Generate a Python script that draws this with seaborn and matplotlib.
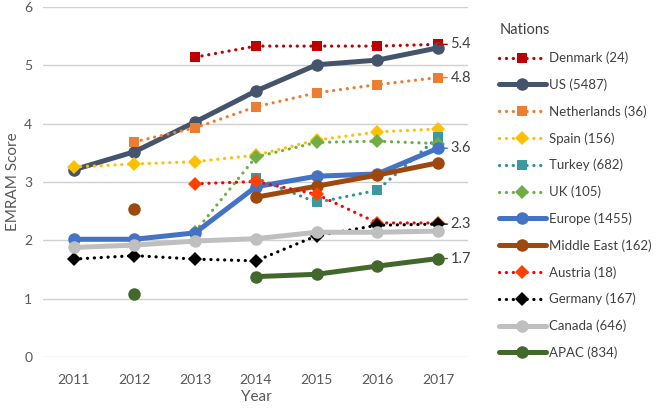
import numpy as np
import pandas as pd
import seaborn as sns
import matplotlib.pyplot as plt
from matplotlib.lines import Line2D

nan = np.nan
years = [2011, 2012, 2013, 2014, 2015, 2016, 2017]

denmark = [nan, nan, 5.14, 5.33, 5.33, 5.33, 5.36]
us = [3.21, 3.52, 4.03, 4.56, 5.01, 5.09, 5.30]
netherlands = [nan, 3.69, 3.93, 4.29, 4.53, 4.67, 4.79]
spain = [3.26, 3.31, 3.35, 3.46, 3.72, 3.86, 3.91]
turkey = [nan, nan, nan, 3.07, 2.65, 2.86, 3.77]
uk = [nan, nan, 2.15, 3.43, 3.68, 3.70, 3.66]
europe = [2.02, 2.02, 2.13, 2.92, 3.10, 3.14, 3.58]
middle_east = [nan, 2.54, nan, 2.74, 2.93, 3.12, 3.33]
austria = [nan, nan, 2.97, 3.01, 2.79, 2.30, 2.30]
germany = [1.68, 1.74, 1.68, 1.65, 2.08, 2.26, 2.28]
canada = [1.88, 1.92, 1.99, 2.03, 2.14, 2.14, 2.16]
apac = [nan, 1.09, nan, 1.38, 1.42, 1.56, 1.69]

nations = ["Denmark (24)", "US (5487)", "Netherlands (36)", "Spain (156)",
           "Turkey (682)", "UK (105)", "Europe (1455)", "Middle East (162)",
           "Austria (18)", "Germany (167)", "Canada (646)", "APAC (834)"]
series = [denmark, us, netherlands, spain, turkey, uk, europe, middle_east,
          austria, germany, canada, apac]
# series that get a value label at 2017
labelled = ["Denmark (24)", "Netherlands (36)", "Europe (1455)", "Germany (167)", "APAC (834)"]

# (line color, marker color, dotted, marker)
styles = {
    "Denmark (24)": ("#C00000", "#C00000", True, "s"),
    "US (5487)": ("#44546A", "#44546A", False, "o"),
    "Netherlands (36)": ("#ED7D31", "#ED7D31", True, "s"),
    "Spain (156)": ("#FFC000", "#FFC000", True, "D"),
    "Turkey (682)": ("#2E9497", "#3A9A9E", True, "s"),
    "UK (105)": ("#70AD47", "#70AD47", True, "D"),
    "Europe (1455)": ("#4472C4", "#4472C4", False, "o"),
    "Middle East (162)": ("#9E480E", "#9E480E", False, "o"),
    "Austria (18)": ("#FF0000", "#FF4000", True, "D"),
    "Germany (167)": ("#000000", "#000000", True, "D"),
    "Canada (646)": ("#BFBFBF", "#BFBFBF", False, "o"),
    "APAC (834)": ("#43682B", "#43682B", False, "o"),
}
dot_style = (0, (0.05, 2.1))

sns.set_style("white")
plt.rcParams['font.family'] = ['Lato', 'DejaVu Sans']

fig = plt.figure(figsize=(6.57, 4.11), dpi=100)
ax = fig.add_axes([0.066, 0.131, 0.647, 0.852])

handles = []
for name, vals in zip(nations, series):
    lc, mc, dotted, mk = styles[name]
    df = pd.DataFrame({"Year": years, "Score": vals})
    df["seg"] = df["Score"].isna().cumsum()
    df = df.dropna()
    if dotted:
        kw = dict(linestyle=dot_style, linewidth=2.3, dash_capstyle="round")
        ms = 7 if mk == "D" else 6.5
    else:
        kw = dict(linestyle="-", linewidth=3.6)
        ms = 9
    sns.lineplot(data=df, x="Year", y="Score", units="seg", estimator=None,
                 color=lc, marker=mk, markersize=ms, markerfacecolor=mc,
                 markeredgecolor=mc, markeredgewidth=0, ax=ax, legend=False, **kw)
    handles.append(Line2D([0], [0], color=lc, marker=mk, markersize=ms,
                          markerfacecolor=mc, markeredgecolor=mc, markeredgewidth=0, **kw))
    if name in labelled:
        v = vals[-1]
        ax.annotate(f"{v:.1f}", xy=(years[-1], v), xytext=(9, 0), textcoords="offset points",
                    va="center", ha="left", fontsize=10.5, color="#404040",
                    arrowprops=dict(arrowstyle="-", color=lc, lw=1, shrinkA=0, shrinkB=0))

ax.set_xlim(2010.5, 2017.5)
ax.set_ylim(0, 6)
ax.set_xticks(years)
ax.set_xticklabels([str(y) for y in years])
ax.set_yticks(range(0, 7))
ax.grid(axis="y", color="#D0D0D0", linewidth=1)
ax.set_axisbelow(True)
sns.despine(ax=ax, left=True, bottom=True)
ax.tick_params(axis="y", length=0, labelsize=10, labelcolor="#595959", pad=8)
ax.tick_params(axis="x", length=0, labelsize=10, labelcolor="#595959", pad=12)
ax.set_xlabel("Year", fontsize=11, color="#595959", labelpad=3)
ax.set_ylabel("EMRAM Score", fontsize=11, color="#595959", labelpad=3)

leg = fig.legend(handles, nations, title="Nations", loc="upper left",
                 bbox_to_anchor=(0.742, 0.972), frameon=False, fontsize=9.5,
                 title_fontsize=10.5, handlelength=3.5, handletextpad=0.25,
                 labelspacing=1.08, alignment="left")
for t in leg.get_texts():
    t.set_color("#404040")
leg.get_title().set_color("#404040")

fig.savefig("out.png", dpi=100)
